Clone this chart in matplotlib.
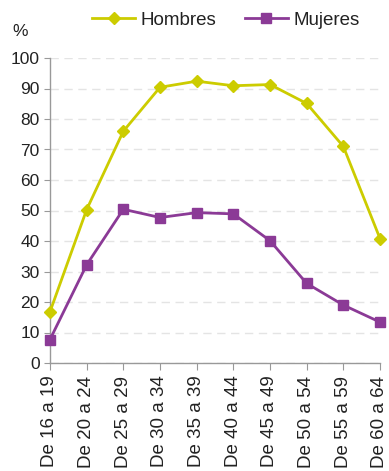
import matplotlib
matplotlib.use("Agg")
import matplotlib.pyplot as plt

categories = ["De 16 a 19", "De 20 a 24", "De 25 a 29", "De 30 a 34", "De 35 a 39",
              "De 40 a 44", "De 45 a 49", "De 50 a 54", "De 55 a 59", "De 60 a 64"]
hombres = [16.8, 50.3, 76.0, 90.4, 92.4, 90.9, 91.3, 85.1, 71.0, 40.8]
mujeres = [7.7, 32.2, 50.4, 47.7, 49.3, 48.9, 40.1, 26.1, 19.0, 13.4]
yticks = list(range(0, 101, 10))

plt.rcParams['font.family'] = ['Liberation Sans', 'DejaVu Sans']

W, H = 389, 471
fig = plt.figure(figsize=(W / 100, H / 100), dpi=100)
ax = fig.add_axes([50 / W, (H - 363) / H, (380 - 50) / W, (363 - 58) / H])

x = list(range(len(categories)))
yellow = '#cccc00'
purple = '#8b3a96'
ax.plot(x, hombres, color=yellow, lw=2, marker='D', ms=6, label='Hombres', clip_on=False, zorder=3)
ax.plot(x, mujeres, color=purple, lw=2, marker='s', ms=7, label='Mujeres', clip_on=False, zorder=3)

ax.set_xlim(0, len(categories) - 1)
ax.set_ylim(0, 100)
ax.set_yticks(yticks)
ax.set_xticks(x)
ax.set_xticklabels(categories, rotation=90, fontsize=13.5, color='#222222')
ax.tick_params(axis='y', labelsize=12.5, labelcolor='#222222', color='#999999', length=4, direction='out')
ax.tick_params(axis='x', color='#999999', length=5, direction='out', pad=4)
ax.grid(axis='y', color='#e4e4e4', ls=(0, (6, 4)), lw=1)
ax.set_axisbelow(True)
for s in ['top', 'right']:
    ax.spines[s].set_visible(False)
for s in ['left', 'bottom']:
    ax.spines[s].set_color('#999999')
    ax.spines[s].set_linewidth(1)

fig.text(12 / W, 1 - 31 / H, '%', fontsize=12.5, color='#222222', va='center', ha='left')

leg = fig.legend(loc='center', bbox_to_anchor=(226 / W, 1 - 20 / H), ncol=2, frameon=False,
                 fontsize=13.5, handlelength=2.3, columnspacing=1.5, handletextpad=0.3,
                 borderpad=0, borderaxespad=0)
for t in leg.get_texts():
    t.set_color('#222222')

fig.savefig('out.png', dpi=100)
